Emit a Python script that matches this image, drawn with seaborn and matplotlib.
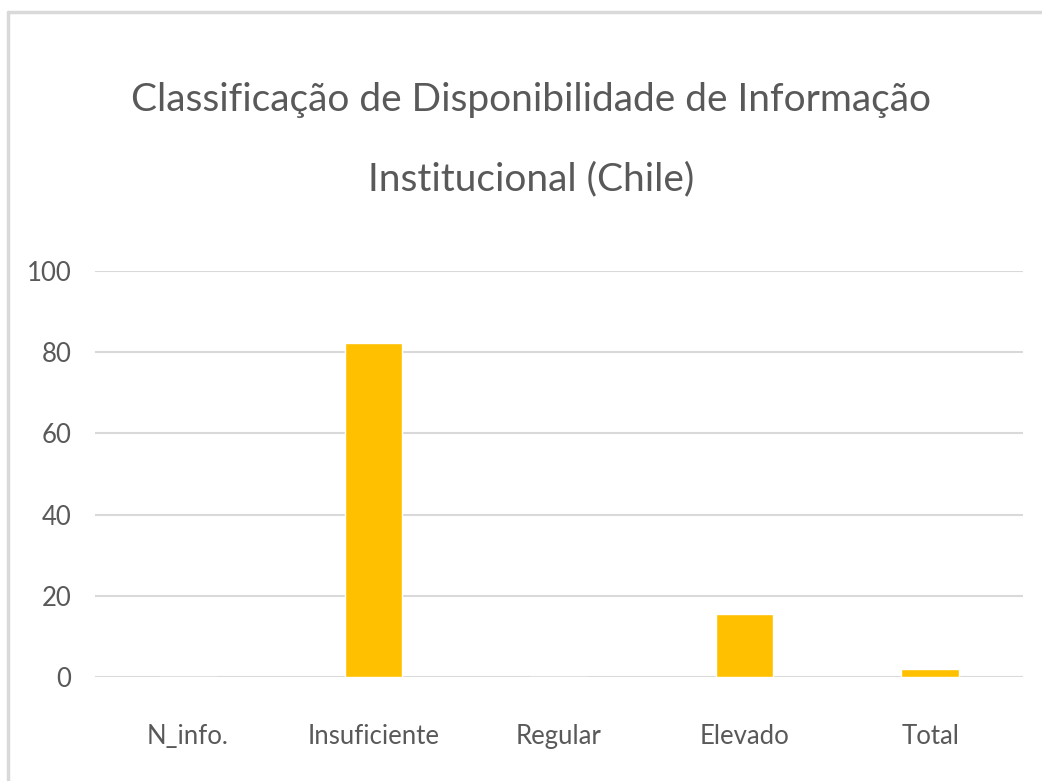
import matplotlib
matplotlib.use('Agg')
import matplotlib.pyplot as plt
import seaborn as sns
import pandas as pd

categorias = ['N_info.', 'Insuficiente', 'Regular', 'Elevado', 'Total']
valores = [0, 82.3, 0, 15.5, 1.9]

sns.set_theme(style='white')
plt.rcParams['font.family'] = ['Lato', 'DejaVu Sans']

df = pd.DataFrame({'cat': categorias, 'val': valores})

fig = plt.figure(figsize=(10.42, 7.81), dpi=100)
ax = fig.add_axes([0.0912, 0.1332, 0.8906, 0.5198])

sns.barplot(data=df, x='cat', y='val', color='#FFC000', saturation=1,
            width=0.31, ax=ax, zorder=3)

ax.set_ylim(0, 100)
ax.set_yticks([0, 20, 40, 60, 80, 100])
ax.yaxis.grid(True, color='#D9D9D9', linewidth=1.5, zorder=0)
ax.set_axisbelow(True)
for s in ax.spines.values():
    s.set_visible(False)
ax.set_xlabel('')
ax.set_ylabel('')
ax.tick_params(axis='y', length=0, pad=17, labelsize=18.5, labelcolor='#595959')
ax.tick_params(axis='x', length=0, pad=34, labelsize=18.5, labelcolor='#595959')

fig.text(0.51, 0.872, 'Classificação de Disponibilidade de Informação',
         ha='center', va='center', fontsize=28, color='#595959')
fig.text(0.51, 0.77, 'Institucional (Chile)',
         ha='center', va='center', fontsize=28, color='#595959')

# chart border (left and top visible)
fig.add_artist(plt.Line2D([0.008, 0.008], [0, 0.985], color='#D9D9D9',
                          linewidth=2.5, transform=fig.transFigure))
fig.add_artist(plt.Line2D([0.008, 1], [0.985, 0.985], color='#D9D9D9',
                          linewidth=2.5, transform=fig.transFigure))

fig.savefig('out.png', dpi=100)
